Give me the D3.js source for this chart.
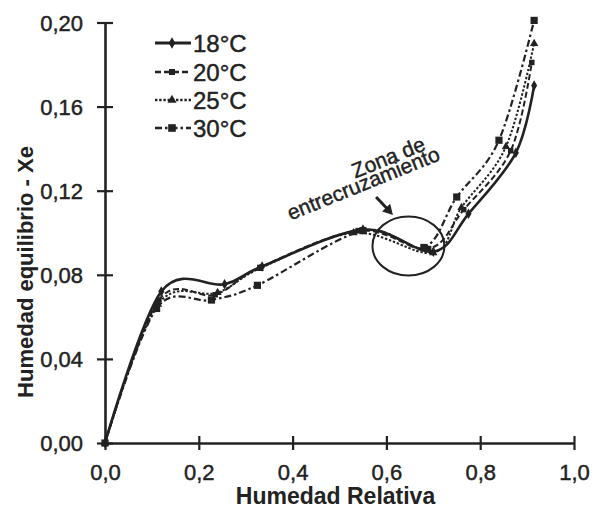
<!DOCTYPE html>
<html>
<head>
<meta charset="utf-8">
<script src="https://cdn.jsdelivr.net/npm/d3@7/dist/d3.min.js"></script>
<style>
  html, body { margin: 0; padding: 0; background: #fff; }
  svg { display: block; }
  text { font-family: "Liberation Sans", Arial, sans-serif; fill: #222; }
  text.reg { stroke: #222; stroke-width: 0.45px; }
</style>
</head>
<body>
<svg id="chart" width="593" height="510"></svg>
<script>
// ---- data ----
const seriesNames = ["18°C", "20°C", "25°C", "30°C"];
const rh18 = [0, 0.120, 0.255, 0.335, 0.550, 0.700, 0.775, 0.876, 0.915];
const xe18 = [0, 0.072, 0.0755, 0.084, 0.1015, 0.091, 0.109, 0.138, 0.170];
const rh20 = [0, 0.115, 0.235, 0.330, 0.540, 0.690, 0.765, 0.865, 0.910];
const xe20 = [0, 0.068, 0.0705, 0.0835, 0.1010, 0.0925, 0.111, 0.139, 0.181];
const rh25 = [0, 0.113, 0.240, 0.330, 0.530, 0.700, 0.760, 0.855, 0.915];
const xe25 = [0, 0.066, 0.0715, 0.083, 0.1000, 0.0905, 0.112, 0.141, 0.190];
const rh30 = [0, 0.110, 0.227, 0.325, 0.550, 0.680, 0.750, 0.840, 0.915];
const xe30 = [0, 0.064, 0.068, 0.075, 0.1010, 0.093, 0.117, 0.144, 0.201];
const xTicks = [0, 0.2, 0.4, 0.6, 0.8, 1.0];
const yTicks = [0, 0.04, 0.08, 0.12, 0.16, 0.20];
const xTitle = "Humedad Relativa";
const yTitle = "Humedad equilibrio - Xe";
const noteLines = ["Zona de", "entrecruzamiento"];
// annotation anchors (data units)
const ellipseCenter = [0.647, 0.0937];
const arrowFrom = [0.578, 0.117];
const arrowTo = [0.614, 0.1085];

const series = [
  { name: seriesNames[0], rh: rh18, xe: xe18, dash: null, width: 2.6, marker: "diamond", msize: 32 },
  { name: seriesNames[1], rh: rh20, xe: xe20, dash: "6,3", width: 2.0, marker: "square", msize: 30 },
  { name: seriesNames[2], rh: rh25, xe: xe25, dash: "2.4,1.8", width: 2.0, marker: "triangle", msize: 30 },
  { name: seriesNames[3], rh: rh30, xe: xe30, dash: "7,3,2.5,3", width: 2.2, marker: "square", msize: 52 }
];

const svg = d3.select("#chart");
const ink = "#222";

const x = d3.scaleLinear().domain([0, 1]).range([105, 574]);
const y = d3.scaleLinear().domain([0, 0.2]).range([443, 22.5]);

// ---- axes ----
const xAxis = svg.append("g").attr("transform", `translate(0,${y(0)})`)
  .call(d3.axisBottom(x).tickValues(xTicks).tickSize(7).tickSizeOuter(0)
    .tickFormat(d => d3.format(".1f")(d).replace(".", ",")));
xAxis.select(".domain").attr("stroke", ink).attr("stroke-width", 2.6);
xAxis.selectAll(".tick line").attr("stroke", ink).attr("stroke-width", 2.2).attr("y1", -7);
xAxis.selectAll(".tick text").attr("class", "reg").attr("font-size", 22).attr("y", 21).attr("dy", "0.71em")
  .attr("font-family", "Liberation Sans, Arial, sans-serif").attr("fill", ink);

const yAxis = svg.append("g").attr("transform", `translate(${x(0)},0)`)
  .call(d3.axisLeft(y).tickValues(yTicks).tickSize(8).tickSizeOuter(0)
    .tickFormat(d => d3.format(".2f")(d).replace(".", ",")));
yAxis.select(".domain").attr("stroke", ink).attr("stroke-width", 2.6);
yAxis.selectAll(".tick line").attr("stroke", ink).attr("stroke-width", 2.2).attr("x1", 8);
yAxis.selectAll(".tick text").attr("class", "reg").attr("font-size", 22).attr("x", -22).attr("dy", "0.36em")
  .attr("font-family", "Liberation Sans, Arial, sans-serif").attr("fill", ink);

// axis titles
svg.append("text").attr("x", (x(0) + x(1)) / 2 - 4).attr("y", 504)
  .attr("text-anchor", "middle").attr("font-size", 23).attr("font-weight", "bold").text(xTitle);
svg.append("text").attr("transform", `translate(33,272) rotate(-90)`)
  .attr("text-anchor", "middle").attr("font-size", 22).attr("font-weight", "bold").text(yTitle);

// ---- curves ----
const line = d3.line().x(d => x(d[0])).y(d => y(d[1])).curve(d3.curveCardinal.tension(0));
const symType = { diamond: d3.symbolDiamond, square: d3.symbolSquare, triangle: d3.symbolTriangle };

series.forEach(s => {
  const pts = s.rh.map((v, i) => [v, s.xe[i]]);
  svg.append("path").datum(pts).attr("d", line)
    .attr("fill", "none").attr("stroke", ink).attr("stroke-width", s.width)
    .attr("stroke-dasharray", s.dash);
  svg.append("g").selectAll("path").data(pts).join("path")
    .attr("transform", d => `translate(${x(d[0])},${y(d[1])})`)
    .attr("d", d3.symbol().type(symType[s.marker]).size(s.msize))
    .attr("fill", ink);
});

// ---- annotation ----
svg.append("ellipse").attr("cx", x(ellipseCenter[0])).attr("cy", y(ellipseCenter[1]))
  .attr("rx", 36).attr("ry", 29.5).attr("fill", "none").attr("stroke", ink).attr("stroke-width", 2);

const ax1 = x(arrowFrom[0]), ay1 = y(arrowFrom[1]), ax2 = x(arrowTo[0]), ay2 = y(arrowTo[1]);
const ang = Math.atan2(ay2 - ay1, ax2 - ax1);
const hl = 10, hw = 5.5;
svg.append("line").attr("x1", ax1).attr("y1", ay1)
  .attr("x2", ax2 - Math.cos(ang) * hl * 0.8).attr("y2", ay2 - Math.sin(ang) * hl * 0.8)
  .attr("stroke", ink).attr("stroke-width", 3);
const bx = ax2 - Math.cos(ang) * hl, by = ay2 - Math.sin(ang) * hl;
svg.append("path").attr("d",
  `M${ax2},${ay2} L${bx - Math.sin(ang) * hw},${by + Math.cos(ang) * hw} L${bx + Math.sin(ang) * hw},${by - Math.cos(ang) * hw} Z`)
  .attr("fill", ink);

svg.append("text").attr("class", "reg").attr("transform", "translate(391,164) rotate(-22)")
  .attr("text-anchor", "middle").attr("font-size", 21).text(noteLines[0]);
svg.append("text").attr("class", "reg").attr("transform", "translate(366,190) rotate(-22)")
  .attr("text-anchor", "middle").attr("font-size", 21).text(noteLines[1]);

// ---- legend ----
const legend = svg.append("g");
const legY = [43, 72, 100, 128];
series.forEach((s, i) => {
  const g = legend.append("g").attr("transform", `translate(0,${legY[i]})`);
  g.append("line").attr("x1", 155).attr("x2", 191).attr("y1", 0).attr("y2", 0)
    .attr("stroke", ink).attr("stroke-width", s.width + 0.4).attr("stroke-dasharray", s.dash);
  g.append("path").attr("transform", "translate(172,0)")
    .attr("d", d3.symbol().type(symType[s.marker]).size(s.msize + 6)).attr("fill", ink);
  g.append("text").attr("class", "reg").attr("x", 193).attr("y", 0).attr("dy", "0.36em")
    .attr("font-size", 24).text(s.name);
});
</script>
</body>
</html>
